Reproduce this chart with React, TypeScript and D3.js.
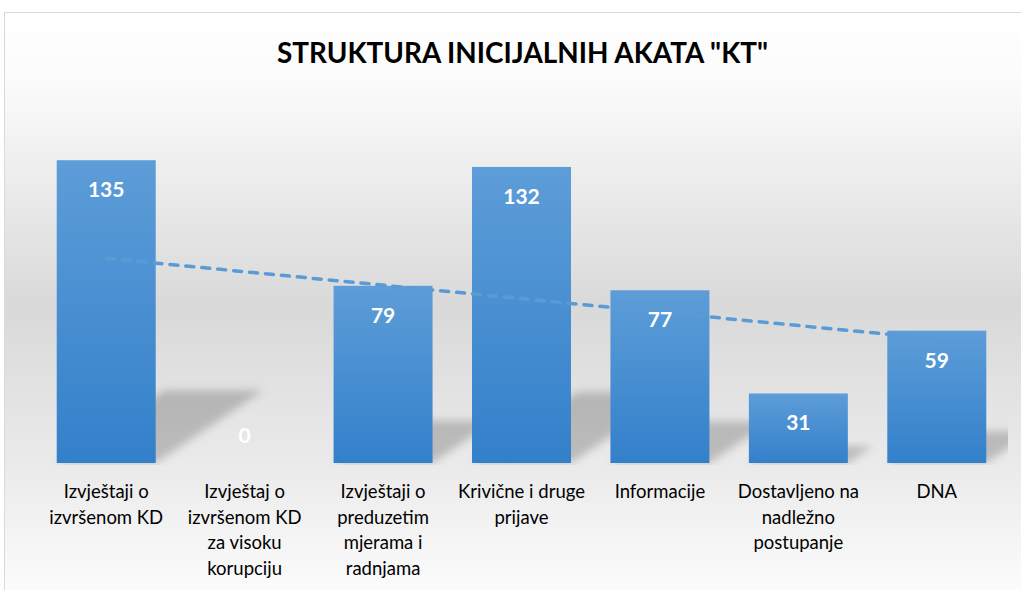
import React from "react";
import * as d3 from "d3";

const categories: string[][] = [
  ["Izvještaji o", "izvršenom KD"],
  ["Izvještaj o", "izvršenom KD", "za visoku", "korupciju"],
  ["Izvještaji o", "preduzetim", "mjerama i", "radnjama"],
  ["Krivične i druge", "prijave"],
  ["Informacije"],
  ["Dostavljeno na", "nadležno", "postupanje"],
  ["DNA"],
];
const values: number[] = [135, 0, 79, 132, 77, 31, 59];
const title = 'STRUKTURA INICIJALNIH AKATA "KT"';

const W = 1021;
const H = 590;
const plotLeft = 37;
const plotRight = 1006;
const baseY = 463;
const topY = 149;
const FONT = "Lato, 'Open Sans', 'DejaVu Sans', sans-serif";

export default function App() {
  const idx = values.map((_, i) => String(i));
  const x = d3
    .scaleBand<string>()
    .domain(idx)
    .range([plotLeft, plotRight])
    .paddingInner(0.285)
    .paddingOuter(0.1425);
  const y = d3.scaleLinear().domain([0, 140]).range([baseY, topY]);

  // linear trendline (least squares over category index 1..n)
  const n = values.length;
  const xs = values.map((_, i) => i + 1);
  const mx = d3.mean(xs) as number;
  const my = d3.mean(values) as number;
  const slope =
    d3.sum(xs.map((xi, i) => (xi - mx) * (values[i] - my))) /
    d3.sum(xs.map((xi) => (xi - mx) ** 2));
  const icpt = my - slope * mx;
  const trendPts: [number, number][] = [1, n].map((k) => [
    (x(String(k - 1)) as number) + x.bandwidth() / 2,
    y(icpt + slope * k),
  ]);
  const line = d3.line();

  return (
    <svg
      width={W}
      height={H}
      style={{ position: "absolute", left: 0, top: 0 }}
      xmlns="http://www.w3.org/2000/svg"
    >
      <defs>
        <linearGradient id="bg" x1="0" y1="12" x2="0" y2="600" gradientUnits="userSpaceOnUse">
          <stop offset="0" stopColor="#ffffff" />
          <stop offset="0.12" stopColor="#fbfbfb" />
          <stop offset="0.5" stopColor="#d9d9d9" />
          <stop offset="0.78" stopColor="#ebebeb" />
          <stop offset="1" stopColor="#fdfdfd" />
        </linearGradient>
        <linearGradient id="barg" x1="0" y1="0" x2="0" y2="1">
          <stop offset="0" stopColor="#5d9dd8" />
          <stop offset="1" stopColor="#3380ca" />
        </linearGradient>
        <filter id="blur" x="-30%" y="-30%" width="160%" height="160%">
          <feGaussianBlur stdDeviation="4" />
        </filter>
        <clipPath id="plotclip">
          <rect x={plotLeft} y={topY - 20} width={1008 - plotLeft} height={baseY - topY + 22} />
        </clipPath>
      </defs>
      <rect x={4.5} y={12.5} width={1030} height={600} fill="url(#bg)" stroke="#d9d9d9" strokeWidth={1} />
      <text
        x={522.5}
        y={63}
        textAnchor="middle"
        fontFamily={FONT}
        fontWeight="bold"
        fontSize={28}
        textLength={491}
        lengthAdjust="spacingAndGlyphs"
        fill="#000"
      >
        {title}
      </text>
      <g clipPath="url(#plotclip)">
        {values.map((v, i) => {
          const x0 = x(String(i)) as number;
          const x1 = x0 + x.bandwidth();
          const h = baseY - y(v);
          const hs = 0.24 * h;
          const dx = 1.48 * hs;
          if (h <= 0) return null;
          const pts = [
            [x0, baseY],
            [x1, baseY],
            [x1 + dx, baseY - hs],
            [x0 + dx, baseY - hs],
          ]
            .map((p) => p.join(","))
            .join(" ");
          return <polygon key={i} points={pts} fill="#000" fillOpacity={0.2} filter="url(#blur)" />;
        })}
      </g>
      {values.map((v, i) => (
        <rect
          key={i}
          x={x(String(i))}
          y={y(v)}
          width={x.bandwidth()}
          height={baseY - y(v)}
          fill="url(#barg)"
        />
      ))}
      <path
        d={line(trendPts) as string}
        fill="none"
        stroke="#5b9bd5"
        strokeWidth={3.5}
        strokeDasharray="8 8"
        strokeLinecap="round"
      />
      {values.map((v, i) => (
        <text
          key={i}
          x={(x(String(i)) as number) + x.bandwidth() / 2}
          y={Math.min(y(v) + 37, baseY - 20)}
          textAnchor="middle"
          fontFamily={FONT}
          fontWeight="bold"
          fontSize={21}
          fill="#ffffff"
        >
          {v}
        </text>
      ))}
      {categories.map((lines, i) => (
        <text
          key={i}
          x={(x(String(i)) as number) + x.bandwidth() / 2}
          textAnchor="middle"
          fontFamily={FONT}
          fontSize={18.5}
          fill="#000"
        >
          {lines.map((l, j) => (
            <tspan key={j} x={(x(String(i)) as number) + x.bandwidth() / 2} y={498 + j * 25.7}>
              {l}
            </tspan>
          ))}
        </text>
      ))}
    </svg>
  );
}
